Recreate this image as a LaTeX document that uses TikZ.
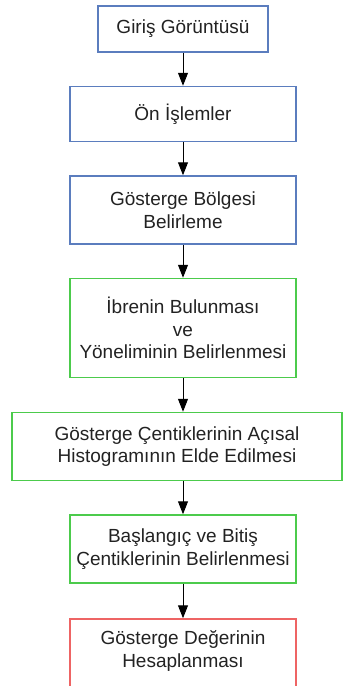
\documentclass[tikz,border=0pt]{standalone}
\usepackage{fontspec}
\setmainfont{Liberation Sans}
\usetikzlibrary{arrows.meta}
\definecolor{bluebd}{HTML}{5B7DBE}
\definecolor{greenbd}{HTML}{4CCB4C}
\definecolor{redbd}{HTML}{EE6464}
\definecolor{txt}{HTML}{222222}
\tikzset{
  stepbox/.style={draw, line width=1.5pt, rectangle, align=center, text=txt,
    font=\fontsize{19}{22.7}\selectfont, inner sep=0pt},
  bluebox/.style={stepbox, draw=bluebd},
  greenbox/.style={stepbox, draw=greenbd},
  redbox/.style={stepbox, draw=redbd},
  flow/.style={-{Triangle[length=13pt,width=10pt]}, line width=1pt, black}
}
\begin{document}
\begin{tikzpicture}[x=1pt,y=-1pt]
\useasboundingbox (0,0) rectangle (343,686);
\node[bluebox, minimum width=170pt, minimum height=46pt] (a) at (183,29) {Giriş Görüntüsü};
\node[bluebox, minimum width=226pt, minimum height=55pt] (b) at (183,114) {Ön İşlemler};
\node[bluebox, minimum width=226pt, minimum height=68pt] (c) at (183,210) {Gösterge Bölgesi\\ Belirleme};
\node[greenbox, minimum width=226pt, minimum height=99pt] (d) at (183,328) {İbrenin Bulunması\\ve\\Yöneliminin Belirlenmesi};
\node[greenbox, minimum width=330pt, minimum height=68pt] (e) at (177,446.5) {Gösterge Çentiklerinin Açısal\\Histogramının Elde Edilmesi};
\node[greenbox, minimum width=226pt, minimum height=68pt] (f) at (183,549) {Başlangıç ve Bitiş\\Çentiklerinin Belirlenmesi};
\node[redbox, minimum width=226pt, minimum height=72pt, text depth=0pt] (g) at (183,655) {};
\node[text=txt, font=\fontsize{19}{22.7}\selectfont, align=center] (gt) at (183,651) {Gösterge Değerinin\\Hesaplanması};
\draw[flow] (a.south) -- (b.north);
\draw[flow] (b.south) -- (c.north);
\draw[flow] (c.south) -- (d.north);
\draw[flow] (d.south) -- (e.north -| d.south);
\draw[flow] (e.south -| f.north) -- (f.north);
\draw[flow] (f.south) -- (g.north);
\end{tikzpicture}
\end{document}
